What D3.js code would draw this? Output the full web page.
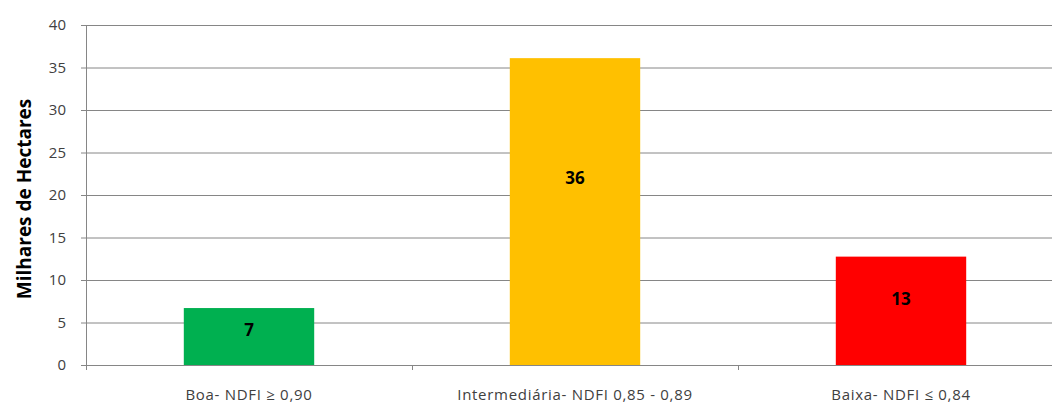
<!DOCTYPE html>
<html><head><meta charset="utf-8">
<script src="https://cdn.jsdelivr.net/npm/d3@7"></script>
<style>body{margin:0;background:#fff}svg{display:block}</style>
</head><body>
<script>
const categories = ["Boa- NDFI \u2265 0,90", "Intermedi\u00e1ria- NDFI 0,85 - 0,89", "Baixa- NDFI \u2264 0,84"];
const values = [6.7, 36.1, 12.75];
const labels = ["7", "36", "13"];
const colors = ["#00b050", "#ffc000", "#ff0000"];
const yTicks = [0, 5, 10, 15, 20, 25, 30, 35, 40];
const yTitle = "Milhares de Hectares";

const W = 1052, H = 405;
const svg = d3.select("body").append("svg").attr("width", W).attr("height", H);
const mLeft = 86, mRight = 1064, mTop = 25, mBottom = 365;
const x = d3.scaleBand().domain(categories).range([mLeft, mRight]).paddingInner(0.6).paddingOuter(0.3);
const y = d3.scaleLinear().domain([0, 40]).range([mBottom, mTop]);
const grid = "#868686";
const font = "'Open Sans', 'Liberation Sans', Arial, sans-serif";

// gridlines
svg.append("g").selectAll("line").data(yTicks).join("line")
  .attr("x1", mLeft - 5).attr("x2", mRight).attr("y1", d => y(d) + 0.5).attr("y2", d => y(d) + 0.5)
  .attr("stroke", grid).attr("stroke-width", 1);
// y axis line
svg.append("line").attr("x1", mLeft + 0.5).attr("x2", mLeft + 0.5).attr("y1", mTop).attr("y2", mBottom + 5)
  .attr("stroke", grid);
// category tick marks
const step = x.step();
svg.append("g").selectAll("line").data(d3.range(1, categories.length)).join("line")
  .attr("x1", i => mLeft + i * step + 0.5).attr("x2", i => mLeft + i * step + 0.5)
  .attr("y1", mBottom).attr("y2", mBottom + 5).attr("stroke", grid);

// y tick labels
svg.append("g").selectAll("text").data(yTicks).join("text")
  .attr("x", 66).attr("y", d => y(d)).attr("dy", "0.35em").attr("text-anchor", "end")
  .attr("font-family", font).attr("font-size", 15).attr("fill", "#404040").text(d => d);

// y title
svg.append("text").attr("transform", "translate(31,199) rotate(-90)").attr("text-anchor", "middle")
  .attr("font-family", font).attr("font-size", 19).attr("font-weight", "bold").attr("fill", "#000").text(yTitle);

// bars
svg.append("g").selectAll("rect").data(values).join("rect")
  .attr("x", (d, i) => x(categories[i])).attr("width", x.bandwidth())
  .attr("y", d => y(d)).attr("height", d => y(0) - y(d)).attr("fill", (d, i) => colors[i]);

// value labels
svg.append("g").selectAll("text").data(values).join("text")
  .attr("x", (d, i) => x(categories[i]) + x.bandwidth() / 2).attr("y", d => y(d * 0.61)).attr("dy", "0.35em")
  .attr("text-anchor", "middle").attr("font-family", font).attr("font-size", 17).attr("font-weight", "bold")
  .attr("fill", "#000").text((d, i) => labels[i]);

// category labels
svg.append("g").selectAll("text").data(categories).join("text")
  .attr("x", d => x(d) + x.bandwidth() / 2).attr("y", 395).attr("dy", "0.35em").attr("text-anchor", "middle")
  .attr("font-family", font).attr("font-size", 15).attr("letter-spacing", 0.7).attr("fill", "#404040").text(d => d);
</script>
</body></html>
